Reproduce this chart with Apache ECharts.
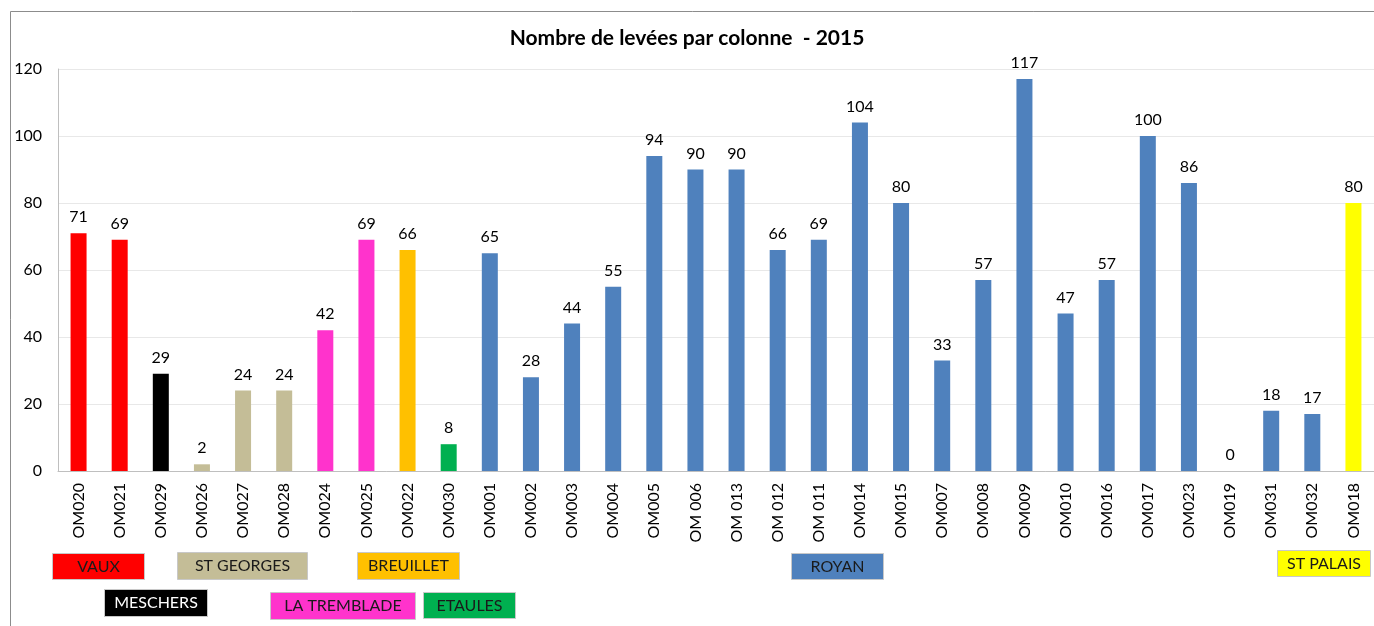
<!DOCTYPE html>
<html>
<head>
<meta charset="utf-8">
<script src="https://cdn.jsdelivr.net/npm/echarts@6/dist/echarts.min.js"></script>
<style>
  html, body { margin: 0; padding: 0; background: #fff; }
  #chart { width: 1374px; height: 626px; }
</style>
</head>
<body>
<div id="chart"></div>
<script>
const categories = ['OM020', 'OM021', 'OM029', 'OM026', 'OM027', 'OM028', 'OM024', 'OM025', 'OM022', 'OM030',
  'OM001', 'OM002', 'OM003', 'OM004', 'OM005', 'OM 006', 'OM 013', 'OM 012', 'OM 011', 'OM014',
  'OM015', 'OM007', 'OM008', 'OM009', 'OM010', 'OM016', 'OM017', 'OM023', 'OM019', 'OM031', 'OM032', 'OM018']
const values = [71, 69, 29, 2, 24, 24, 42, 69, 66, 8,
  65, 28, 44, 55, 94, 90, 90, 66, 69, 104,
  80, 33, 57, 117, 47, 57, 100, 86, 0, 18, 17, 80]
const communes = ['VAUX', 'VAUX', 'MESCHERS', 'ST GEORGES', 'ST GEORGES', 'ST GEORGES', 'LA TREMBLADE', 'LA TREMBLADE', 'BREUILLET', 'ETAULES',
  'ROYAN', 'ROYAN', 'ROYAN', 'ROYAN', 'ROYAN', 'ROYAN', 'ROYAN', 'ROYAN', 'ROYAN', 'ROYAN',
  'ROYAN', 'ROYAN', 'ROYAN', 'ROYAN', 'ROYAN', 'ROYAN', 'ROYAN', 'ROYAN', 'ROYAN', 'ROYAN', 'ROYAN', 'ST PALAIS']
const yTicks = [0, 20, 40, 60, 80, 100, 120]

const communeColors = {
  'VAUX': '#ff0000',
  'MESCHERS': '#000000',
  'ST GEORGES': '#c4bd97',
  'LA TREMBLADE': '#ff33cc',
  'BREUILLET': '#ffc000',
  'ETAULES': '#00b050',
  'ROYAN': '#4f81bd',
  'ST PALAIS': '#ffff00',
}

// legend boxes drawn under the axis, placed like in the original sheet
const boxes = [
  { name: 'VAUX', x: 52, y: 553, w: 92, h: 26 },
  { name: 'ST GEORGES', x: 177, y: 552, w: 130, h: 27 },
  { name: 'BREUILLET', x: 357, y: 552, w: 102, h: 27 },
  { name: 'MESCHERS', x: 104, y: 589, w: 103, h: 27 },
  { name: 'LA TREMBLADE', x: 270, y: 592, w: 145, h: 27 },
  { name: 'ETAULES', x: 423, y: 592, w: 92, h: 26 },
  { name: 'ROYAN', x: 791, y: 553, w: 92, h: 26 },
  { name: 'ST PALAIS', x: 1277, y: 550, w: 93, h: 26 },
]

const font = 'Lato, "Open Sans", sans-serif'

const chart = echarts.init(document.getElementById('chart'))

const graphics = [
  {
    type: 'rect',
    shape: { x: 10.5, y: 11.5, width: 1400, height: 640 },
    style: { fill: 'none', stroke: '#8c8c8c', lineWidth: 1 },
    z: -1,
  },
]
boxes.forEach((b) => {
  graphics.push({
    type: 'rect',
    shape: { x: b.x + 0.5, y: b.y + 0.5, width: b.w, height: b.h },
    style: { fill: communeColors[b.name], stroke: '#c8c8c8', lineWidth: 1 },
    textContent: {
      style: {
        text: b.name,
        fill: b.name === 'MESCHERS' ? '#ffffff' : '#1a1a1a',
        font: '16px ' + font,
      },
    },
    textConfig: { position: 'inside' },
  })
})

chart.setOption({
  animation: false,
  backgroundColor: '#fff',
  title: {
    text: 'Nombre de levées par colonne  - 2015',
    left: 'center',
    top: 23,
    textStyle: { fontFamily: font, fontSize: 21, fontWeight: 'bold', color: '#000' },
  },
  grid: { left: 58, right: 0, top: 69, bottom: 155 },
  xAxis: {
    type: 'category',
    data: categories,
    axisLine: { lineStyle: { color: '#bfbfbf' } },
    axisTick: { show: false },
    axisLabel: {
      rotate: 90,
      interval: 0,
      margin: 12,
      color: '#000',
      fontFamily: font,
      fontSize: 16,
    },
  },
  yAxis: {
    type: 'value',
    min: yTicks[0],
    max: yTicks[yTicks.length - 1],
    interval: 20,
    axisLine: { show: true, lineStyle: { color: '#bfbfbf' } },
    axisTick: { show: false },
    axisLabel: { color: '#000', fontFamily: font, fontSize: 16, margin: 16 },
    splitLine: { lineStyle: { color: '#e8e8e8' } },
  },
  series: [
    {
      type: 'bar',
      barWidth: 16,
      data: values.map((v, i) => ({
        value: v,
        itemStyle: { color: communeColors[communes[i]] },
      })),
      label: {
        show: true,
        position: 'top',
        distance: 8,
        color: '#000',
        fontFamily: font,
        fontSize: 16,
      },
    },
  ],
  graphic: graphics,
})
</script>
</body>
</html>
